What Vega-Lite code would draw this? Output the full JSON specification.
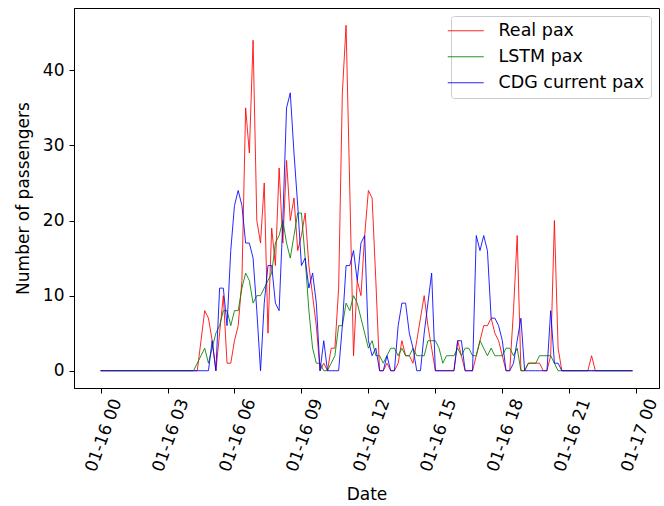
{
  "$schema": "https://vega.github.io/schema/vega-lite/v6.json",
  "width": 585,
  "height": 380,
  "autosize": {"type": "none"},
  "padding": {"left": 74, "top": 8, "right": 5, "bottom": 118},
  "background": "white",
  "config": {
    "font": "DejaVu Sans",
    "view": {"stroke": "black", "strokeWidth": 1},
    "axis": {"grid": false, "domainColor": "black", "tickColor": "black", "labelColor": "black", "titleColor": "black", "labelFontSize": 17, "titleFontSize": 17, "titleFontWeight": "normal", "tickSize": 5, "labelFont": "DejaVu Sans", "titleFont": "DejaVu Sans"},
    "legend": {"labelFont": "DejaVu Sans", "labelFontSize": 17.5, "labelColor": "black"}
  },
  "data": {"values": [
    {"time":"2020-01-16T00:00Z","Real pax":0,"LSTM pax":0,"CDG current pax":0},
    {"time":"2020-01-16T00:10Z","Real pax":0,"LSTM pax":0,"CDG current pax":0},
    {"time":"2020-01-16T00:20Z","Real pax":0,"LSTM pax":0,"CDG current pax":0},
    {"time":"2020-01-16T00:30Z","Real pax":0,"LSTM pax":0,"CDG current pax":0},
    {"time":"2020-01-16T00:40Z","Real pax":0,"LSTM pax":0,"CDG current pax":0},
    {"time":"2020-01-16T00:50Z","Real pax":0,"LSTM pax":0,"CDG current pax":0},
    {"time":"2020-01-16T01:00Z","Real pax":0,"LSTM pax":0,"CDG current pax":0},
    {"time":"2020-01-16T01:10Z","Real pax":0,"LSTM pax":0,"CDG current pax":0},
    {"time":"2020-01-16T01:20Z","Real pax":0,"LSTM pax":0,"CDG current pax":0},
    {"time":"2020-01-16T01:30Z","Real pax":0,"LSTM pax":0,"CDG current pax":0},
    {"time":"2020-01-16T01:40Z","Real pax":0,"LSTM pax":0,"CDG current pax":0},
    {"time":"2020-01-16T01:50Z","Real pax":0,"LSTM pax":0,"CDG current pax":0},
    {"time":"2020-01-16T02:00Z","Real pax":0,"LSTM pax":0,"CDG current pax":0},
    {"time":"2020-01-16T02:10Z","Real pax":0,"LSTM pax":0,"CDG current pax":0},
    {"time":"2020-01-16T02:20Z","Real pax":0,"LSTM pax":0,"CDG current pax":0},
    {"time":"2020-01-16T02:30Z","Real pax":0,"LSTM pax":0,"CDG current pax":0},
    {"time":"2020-01-16T02:40Z","Real pax":0,"LSTM pax":0,"CDG current pax":0},
    {"time":"2020-01-16T02:50Z","Real pax":0,"LSTM pax":0,"CDG current pax":0},
    {"time":"2020-01-16T03:00Z","Real pax":0,"LSTM pax":0,"CDG current pax":0},
    {"time":"2020-01-16T03:10Z","Real pax":0,"LSTM pax":0,"CDG current pax":0},
    {"time":"2020-01-16T03:20Z","Real pax":0,"LSTM pax":0,"CDG current pax":0},
    {"time":"2020-01-16T03:30Z","Real pax":0,"LSTM pax":0,"CDG current pax":0},
    {"time":"2020-01-16T03:40Z","Real pax":0,"LSTM pax":0,"CDG current pax":0},
    {"time":"2020-01-16T03:50Z","Real pax":0,"LSTM pax":0,"CDG current pax":0},
    {"time":"2020-01-16T04:00Z","Real pax":0,"LSTM pax":0,"CDG current pax":0},
    {"time":"2020-01-16T04:10Z","Real pax":0,"LSTM pax":0,"CDG current pax":0},
    {"time":"2020-01-16T04:20Z","Real pax":0,"LSTM pax":1,"CDG current pax":0},
    {"time":"2020-01-16T04:30Z","Real pax":4,"LSTM pax":2,"CDG current pax":0},
    {"time":"2020-01-16T04:40Z","Real pax":8,"LSTM pax":3,"CDG current pax":0},
    {"time":"2020-01-16T04:50Z","Real pax":7,"LSTM pax":1,"CDG current pax":0},
    {"time":"2020-01-16T05:00Z","Real pax":4,"LSTM pax":3,"CDG current pax":4},
    {"time":"2020-01-16T05:10Z","Real pax":0,"LSTM pax":5,"CDG current pax":0},
    {"time":"2020-01-16T05:20Z","Real pax":5,"LSTM pax":6,"CDG current pax":11},
    {"time":"2020-01-16T05:30Z","Real pax":10,"LSTM pax":8,"CDG current pax":11},
    {"time":"2020-01-16T05:40Z","Real pax":1,"LSTM pax":8,"CDG current pax":6},
    {"time":"2020-01-16T05:50Z","Real pax":1,"LSTM pax":6,"CDG current pax":16},
    {"time":"2020-01-16T06:00Z","Real pax":4,"LSTM pax":8,"CDG current pax":22},
    {"time":"2020-01-16T06:10Z","Real pax":6,"LSTM pax":8,"CDG current pax":24},
    {"time":"2020-01-16T06:20Z","Real pax":12,"LSTM pax":11,"CDG current pax":22},
    {"time":"2020-01-16T06:30Z","Real pax":35,"LSTM pax":13,"CDG current pax":17},
    {"time":"2020-01-16T06:40Z","Real pax":29,"LSTM pax":12,"CDG current pax":17},
    {"time":"2020-01-16T06:50Z","Real pax":44,"LSTM pax":9,"CDG current pax":15},
    {"time":"2020-01-16T07:00Z","Real pax":20,"LSTM pax":10,"CDG current pax":8},
    {"time":"2020-01-16T07:10Z","Real pax":17,"LSTM pax":10,"CDG current pax":0},
    {"time":"2020-01-16T07:20Z","Real pax":25,"LSTM pax":11,"CDG current pax":9},
    {"time":"2020-01-16T07:30Z","Real pax":5,"LSTM pax":12,"CDG current pax":14},
    {"time":"2020-01-16T07:40Z","Real pax":19,"LSTM pax":13,"CDG current pax":14},
    {"time":"2020-01-16T07:50Z","Real pax":14,"LSTM pax":17,"CDG current pax":9},
    {"time":"2020-01-16T08:00Z","Real pax":27,"LSTM pax":18,"CDG current pax":8},
    {"time":"2020-01-16T08:10Z","Real pax":17,"LSTM pax":20,"CDG current pax":20},
    {"time":"2020-01-16T08:20Z","Real pax":28,"LSTM pax":17,"CDG current pax":35},
    {"time":"2020-01-16T08:30Z","Real pax":20,"LSTM pax":15,"CDG current pax":37},
    {"time":"2020-01-16T08:40Z","Real pax":23,"LSTM pax":18,"CDG current pax":29},
    {"time":"2020-01-16T08:50Z","Real pax":16,"LSTM pax":21,"CDG current pax":22},
    {"time":"2020-01-16T09:00Z","Real pax":18,"LSTM pax":21,"CDG current pax":14},
    {"time":"2020-01-16T09:10Z","Real pax":21,"LSTM pax":15,"CDG current pax":15},
    {"time":"2020-01-16T09:20Z","Real pax":14,"LSTM pax":8,"CDG current pax":11},
    {"time":"2020-01-16T09:30Z","Real pax":10,"LSTM pax":3,"CDG current pax":13},
    {"time":"2020-01-16T09:40Z","Real pax":6,"LSTM pax":1,"CDG current pax":9},
    {"time":"2020-01-16T09:50Z","Real pax":0,"LSTM pax":1,"CDG current pax":0},
    {"time":"2020-01-16T10:00Z","Real pax":1,"LSTM pax":0,"CDG current pax":4},
    {"time":"2020-01-16T10:10Z","Real pax":0,"LSTM pax":0,"CDG current pax":0},
    {"time":"2020-01-16T10:20Z","Real pax":3,"LSTM pax":1,"CDG current pax":0},
    {"time":"2020-01-16T10:30Z","Real pax":3,"LSTM pax":2,"CDG current pax":0},
    {"time":"2020-01-16T10:40Z","Real pax":11,"LSTM pax":6,"CDG current pax":0},
    {"time":"2020-01-16T10:50Z","Real pax":37,"LSTM pax":6,"CDG current pax":6},
    {"time":"2020-01-16T11:00Z","Real pax":46,"LSTM pax":9,"CDG current pax":14},
    {"time":"2020-01-16T11:10Z","Real pax":24,"LSTM pax":8,"CDG current pax":14},
    {"time":"2020-01-16T11:20Z","Real pax":2,"LSTM pax":10,"CDG current pax":16},
    {"time":"2020-01-16T11:30Z","Real pax":12,"LSTM pax":9,"CDG current pax":12},
    {"time":"2020-01-16T11:40Z","Real pax":10,"LSTM pax":7,"CDG current pax":17},
    {"time":"2020-01-16T11:50Z","Real pax":18,"LSTM pax":5,"CDG current pax":18},
    {"time":"2020-01-16T12:00Z","Real pax":24,"LSTM pax":3,"CDG current pax":4},
    {"time":"2020-01-16T12:10Z","Real pax":23,"LSTM pax":4,"CDG current pax":2},
    {"time":"2020-01-16T12:20Z","Real pax":12,"LSTM pax":2,"CDG current pax":3},
    {"time":"2020-01-16T12:30Z","Real pax":0,"LSTM pax":2,"CDG current pax":0},
    {"time":"2020-01-16T12:40Z","Real pax":0,"LSTM pax":1,"CDG current pax":0},
    {"time":"2020-01-16T12:50Z","Real pax":1,"LSTM pax":2,"CDG current pax":2},
    {"time":"2020-01-16T13:00Z","Real pax":0,"LSTM pax":3,"CDG current pax":0},
    {"time":"2020-01-16T13:10Z","Real pax":0,"LSTM pax":3,"CDG current pax":0},
    {"time":"2020-01-16T13:20Z","Real pax":1,"LSTM pax":2,"CDG current pax":6},
    {"time":"2020-01-16T13:30Z","Real pax":4,"LSTM pax":3,"CDG current pax":9},
    {"time":"2020-01-16T13:40Z","Real pax":2,"LSTM pax":2,"CDG current pax":9},
    {"time":"2020-01-16T13:50Z","Real pax":2,"LSTM pax":2,"CDG current pax":5},
    {"time":"2020-01-16T14:00Z","Real pax":1,"LSTM pax":3,"CDG current pax":3},
    {"time":"2020-01-16T14:10Z","Real pax":4,"LSTM pax":2,"CDG current pax":0},
    {"time":"2020-01-16T14:20Z","Real pax":7,"LSTM pax":2,"CDG current pax":0},
    {"time":"2020-01-16T14:30Z","Real pax":10,"LSTM pax":2,"CDG current pax":5},
    {"time":"2020-01-16T14:40Z","Real pax":6,"LSTM pax":4,"CDG current pax":9},
    {"time":"2020-01-16T14:50Z","Real pax":3,"LSTM pax":4,"CDG current pax":13},
    {"time":"2020-01-16T15:00Z","Real pax":0,"LSTM pax":4,"CDG current pax":0},
    {"time":"2020-01-16T15:10Z","Real pax":0,"LSTM pax":3,"CDG current pax":0},
    {"time":"2020-01-16T15:20Z","Real pax":0,"LSTM pax":1,"CDG current pax":0},
    {"time":"2020-01-16T15:30Z","Real pax":0,"LSTM pax":2,"CDG current pax":0},
    {"time":"2020-01-16T15:40Z","Real pax":0,"LSTM pax":2,"CDG current pax":0},
    {"time":"2020-01-16T15:50Z","Real pax":0,"LSTM pax":2,"CDG current pax":0},
    {"time":"2020-01-16T16:00Z","Real pax":4,"LSTM pax":3,"CDG current pax":4},
    {"time":"2020-01-16T16:10Z","Real pax":2,"LSTM pax":2,"CDG current pax":4},
    {"time":"2020-01-16T16:20Z","Real pax":0,"LSTM pax":3,"CDG current pax":0},
    {"time":"2020-01-16T16:30Z","Real pax":0,"LSTM pax":3,"CDG current pax":0},
    {"time":"2020-01-16T16:40Z","Real pax":0,"LSTM pax":2,"CDG current pax":0},
    {"time":"2020-01-16T16:50Z","Real pax":2,"LSTM pax":2,"CDG current pax":18},
    {"time":"2020-01-16T17:00Z","Real pax":4,"LSTM pax":4,"CDG current pax":16},
    {"time":"2020-01-16T17:10Z","Real pax":6,"LSTM pax":3,"CDG current pax":18},
    {"time":"2020-01-16T17:20Z","Real pax":6,"LSTM pax":2,"CDG current pax":16},
    {"time":"2020-01-16T17:30Z","Real pax":7,"LSTM pax":3,"CDG current pax":7},
    {"time":"2020-01-16T17:40Z","Real pax":5,"LSTM pax":2,"CDG current pax":7},
    {"time":"2020-01-16T17:50Z","Real pax":4,"LSTM pax":2,"CDG current pax":6},
    {"time":"2020-01-16T18:00Z","Real pax":2,"LSTM pax":2,"CDG current pax":4},
    {"time":"2020-01-16T18:10Z","Real pax":0,"LSTM pax":3,"CDG current pax":0},
    {"time":"2020-01-16T18:20Z","Real pax":0,"LSTM pax":3,"CDG current pax":0},
    {"time":"2020-01-16T18:30Z","Real pax":8,"LSTM pax":2,"CDG current pax":1},
    {"time":"2020-01-16T18:40Z","Real pax":18,"LSTM pax":3,"CDG current pax":4},
    {"time":"2020-01-16T18:50Z","Real pax":0,"LSTM pax":0,"CDG current pax":7},
    {"time":"2020-01-16T19:00Z","Real pax":0,"LSTM pax":0,"CDG current pax":0},
    {"time":"2020-01-16T19:10Z","Real pax":1,"LSTM pax":1,"CDG current pax":0},
    {"time":"2020-01-16T19:20Z","Real pax":1,"LSTM pax":1,"CDG current pax":0},
    {"time":"2020-01-16T19:30Z","Real pax":1,"LSTM pax":1,"CDG current pax":0},
    {"time":"2020-01-16T19:40Z","Real pax":1,"LSTM pax":2,"CDG current pax":0},
    {"time":"2020-01-16T19:50Z","Real pax":0,"LSTM pax":2,"CDG current pax":0},
    {"time":"2020-01-16T20:00Z","Real pax":0,"LSTM pax":2,"CDG current pax":0},
    {"time":"2020-01-16T20:10Z","Real pax":2,"LSTM pax":2,"CDG current pax":8},
    {"time":"2020-01-16T20:20Z","Real pax":20,"LSTM pax":1,"CDG current pax":1},
    {"time":"2020-01-16T20:30Z","Real pax":3,"LSTM pax":0,"CDG current pax":1},
    {"time":"2020-01-16T20:40Z","Real pax":0,"LSTM pax":0,"CDG current pax":0},
    {"time":"2020-01-16T20:50Z","Real pax":0,"LSTM pax":0,"CDG current pax":0},
    {"time":"2020-01-16T21:00Z","Real pax":0,"LSTM pax":0,"CDG current pax":0},
    {"time":"2020-01-16T21:10Z","Real pax":0,"LSTM pax":0,"CDG current pax":0},
    {"time":"2020-01-16T21:20Z","Real pax":0,"LSTM pax":0,"CDG current pax":0},
    {"time":"2020-01-16T21:30Z","Real pax":0,"LSTM pax":0,"CDG current pax":0},
    {"time":"2020-01-16T21:40Z","Real pax":0,"LSTM pax":0,"CDG current pax":0},
    {"time":"2020-01-16T21:50Z","Real pax":0,"LSTM pax":0,"CDG current pax":0},
    {"time":"2020-01-16T22:00Z","Real pax":2,"LSTM pax":0,"CDG current pax":0},
    {"time":"2020-01-16T22:10Z","Real pax":0,"LSTM pax":0,"CDG current pax":0},
    {"time":"2020-01-16T22:20Z","Real pax":0,"LSTM pax":0,"CDG current pax":0},
    {"time":"2020-01-16T22:30Z","Real pax":0,"LSTM pax":0,"CDG current pax":0},
    {"time":"2020-01-16T22:40Z","Real pax":0,"LSTM pax":0,"CDG current pax":0},
    {"time":"2020-01-16T22:50Z","Real pax":0,"LSTM pax":0,"CDG current pax":0},
    {"time":"2020-01-16T23:00Z","Real pax":0,"LSTM pax":0,"CDG current pax":0},
    {"time":"2020-01-16T23:10Z","Real pax":0,"LSTM pax":0,"CDG current pax":0},
    {"time":"2020-01-16T23:20Z","Real pax":0,"LSTM pax":0,"CDG current pax":0},
    {"time":"2020-01-16T23:30Z","Real pax":0,"LSTM pax":0,"CDG current pax":0},
    {"time":"2020-01-16T23:40Z","Real pax":0,"LSTM pax":0,"CDG current pax":0},
    {"time":"2020-01-16T23:50Z","Real pax":0,"LSTM pax":0,"CDG current pax":0}
  ]},
  "transform": [
    {"fold": ["Real pax", "LSTM pax", "CDG current pax"], "as": ["series", "pax"]}
  ],
  "mark": {"type": "line", "strokeWidth": 1, "opacity": 0.85},
  "encoding": {
    "x": {
      "field": "time", "type": "temporal", "title": "Date",
      "scale": {"type": "utc", "domain": [1579128516000, 1579222872000]},
      "axis": {"format": "%m-%d %H", "values": [1579132800000, 1579143600000, 1579154400000, 1579165200000, 1579176000000, 1579186800000, 1579197600000, 1579208400000, 1579219200000], "labelAngle": -70, "labelAlign": "right", "labelBaseline": "middle", "labelOffset": 16, "labelPadding": 6, "labelOverlap": false, "labelFlush": false, "titlePadding": 13}
    },
    "y": {
      "field": "pax", "type": "quantitative", "title": "Number of passengers",
      "scale": {"domain": [-2.3, 48.3], "nice": false, "zero": false},
      "axis": {"values": [0, 10, 20, 30, 40], "labelPadding": 5, "titlePadding": 10}
    },
    "color": {
      "field": "series", "type": "nominal",
      "scale": {"domain": ["Real pax", "LSTM pax", "CDG current pax"], "range": ["#ff0000", "#008000", "#0000ff"]},
      "legend": {"title": null, "orient": "top-right", "offset": 8, "symbolType": "M-2.25,0L2.25,0", "symbolSize": 256, "symbolStrokeWidth": 1, "symbolFillColor": "transparent", "fillColor": "white", "strokeColor": "#cccccc", "cornerRadius": 3, "padding": 6, "rowPadding": 7, "labelOffset": 24}
    }
  }
}
